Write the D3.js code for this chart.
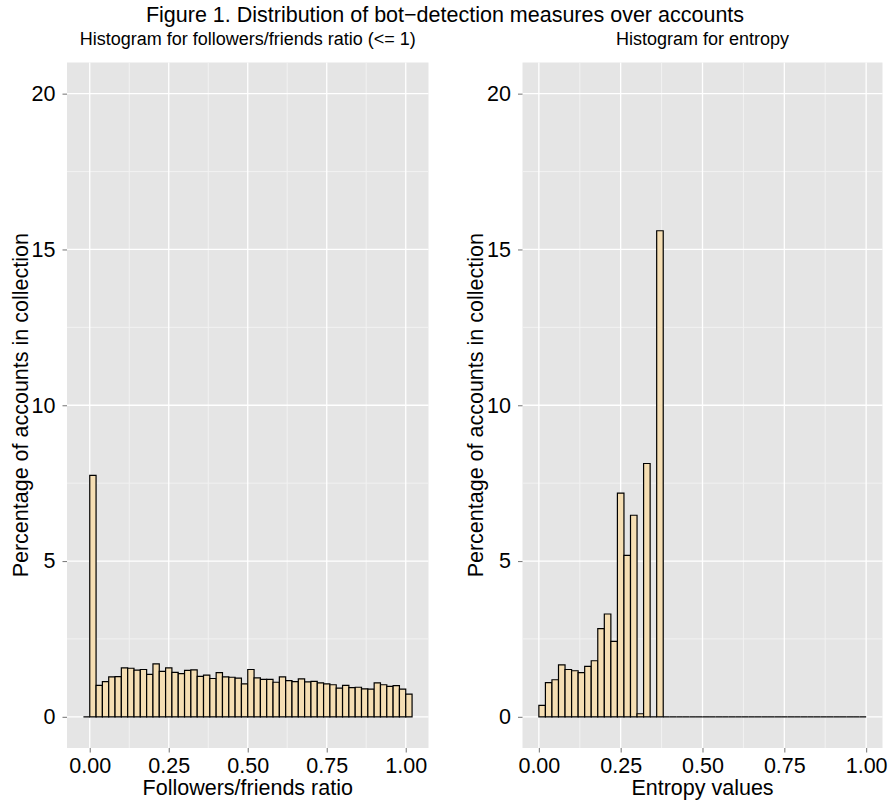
<!DOCTYPE html>
<html>
<head>
<meta charset="utf-8">
<script src="https://cdn.jsdelivr.net/npm/d3@7"></script>
<style>
  body { margin: 0; background: #fff; }
  text { font-family: "Liberation Sans", Arial, sans-serif; }
</style>
</head>
<body>
<svg id="fig"></svg>
<script>
// percentage of accounts per bin, followers/friends ratio (bins of 0.02 starting at -0.02)
const ratioStart = -0.02;
const ratioWidth = 0.02;
const ratioPct = [0, 7.75, 1.01, 1.13, 1.28, 1.29, 1.57, 1.56, 1.50, 1.52, 1.36, 1.70, 1.46,
  1.57, 1.43, 1.39, 1.49, 1.51, 1.30, 1.34, 1.23, 1.42, 1.28, 1.27, 1.24, 1.06, 1.52,
  1.25, 1.20, 1.20, 1.11, 1.28, 1.16, 1.13, 1.22, 1.12, 1.14, 1.09, 1.06, 1.03, 0.92,
  1.01, 0.94, 0.95, 0.90, 0.89, 1.09, 1.03, 0.98, 1.00, 0.89, 0.73];

// percentage of accounts per bin, entropy (bins of 0.02 starting at 0)
const entropyStart = 0;
const entropyWidth = 0.02;
const entropyPct = [0.37, 1.10, 1.19, 1.67, 1.52, 1.48, 1.42, 1.62, 1.80, 2.83, 3.30, 2.42,
  7.18, 5.18, 6.47, 0.10, 8.13, 0, 15.6, 0, 0, 0, 0, 0, 0, 0, 0, 0, 0, 0, 0, 0, 0, 0, 0,
  0, 0, 0, 0, 0, 0, 0, 0, 0, 0, 0, 0, 0, 0, 0];

const xTicks = [0, 0.25, 0.5, 0.75, 1];
const xMinor = [0.125, 0.375, 0.625, 0.875];
const yTicks = [0, 5, 10, 15, 20];
const yMinor = [2.5, 7.5, 12.5, 17.5];

const w = 891;
const h = 803;
const panelTop = 62.5, panelBottom = 748;
const panels = [
  { title: 'Histogram for followers/friends ratio (<= 1)', xlab: 'Followers/friends ratio',
    start: ratioStart, width: ratioWidth, pct: ratioPct, left: 67, right: 428.5, ylabX: 27.5 },
  { title: 'Histogram for entropy', xlab: 'Entropy values',
    start: entropyStart, width: entropyWidth, pct: entropyPct, left: 522.5, right: 882.5, ylabX: 483 }
];

const svg = d3.select('#fig').attr('width', w).attr('height', h);

svg.append('text')
  .attr('x', 445).attr('y', 22)
  .attr('text-anchor', 'middle')
  .attr('font-size', 21.5)
  .text('Figure 1. Distribution of bot\u2212detection measures over accounts');

const yScale = d3.scaleLinear().domain([-1, 21]).range([panelBottom, panelTop]);

panels.forEach(function(p) {
  const bins = p.pct.map((v, i) => ({ x0: p.start + i * p.width, x1: p.start + (i + 1) * p.width, v: v }));
  const lo = bins[0].x0, hi = bins[bins.length - 1].x1;
  const pad = (hi - lo) * 0.05;
  const xScale = d3.scaleLinear().domain([lo - pad, hi + pad]).range([p.left, p.right]);

  const g = svg.append('g');

  g.append('rect')
    .attr('x', p.left).attr('y', panelTop)
    .attr('width', p.right - p.left).attr('height', panelBottom - panelTop)
    .attr('fill', '#E5E5E5');

  // minor grid
  g.selectAll('.vminor').data(xMinor).enter().append('line')
    .attr('x1', d => xScale(d)).attr('x2', d => xScale(d))
    .attr('y1', panelTop).attr('y2', panelBottom)
    .attr('stroke', '#F2F2F2').attr('stroke-width', 1);
  g.selectAll('.hminor').data(yMinor).enter().append('line')
    .attr('x1', p.left).attr('x2', p.right)
    .attr('y1', d => yScale(d)).attr('y2', d => yScale(d))
    .attr('stroke', '#F2F2F2').attr('stroke-width', 1);
  // major grid
  g.selectAll('.vmajor').data(xTicks).enter().append('line')
    .attr('x1', d => xScale(d)).attr('x2', d => xScale(d))
    .attr('y1', panelTop).attr('y2', panelBottom)
    .attr('stroke', '#fff').attr('stroke-width', 1.3);
  g.selectAll('.hmajor').data(yTicks).enter().append('line')
    .attr('x1', p.left).attr('x2', p.right)
    .attr('y1', d => yScale(d)).attr('y2', d => yScale(d))
    .attr('stroke', '#fff').attr('stroke-width', 1.3);

  // bars as closed paths so empty bins still show their outline on the baseline
  g.selectAll('.bar').data(bins).enter().append('path')
    .attr('d', d => 'M' + xScale(d.x0) + ',' + yScale(0) + 'V' + yScale(d.v) +
                    'H' + xScale(d.x1) + 'V' + yScale(0) + 'Z')
    .attr('fill', '#F5DEB3')
    .attr('stroke', '#000')
    .attr('stroke-width', 1.2);

  // axes
  const xAxis = d3.axisBottom(xScale).tickValues(xTicks).tickFormat(d3.format('.2f'))
    .tickSize(4.5).tickPadding(5.5);
  const yAxis = d3.axisLeft(yScale).tickValues(yTicks).tickFormat(d3.format('d'))
    .tickSize(4.5).tickPadding(7);

  const gx = svg.append('g').attr('transform', 'translate(0,' + panelBottom + ')').call(xAxis);
  const gy = svg.append('g').attr('transform', 'translate(' + p.left + ',0)').call(yAxis);
  [gx, gy].forEach(function(a) {
    a.select('.domain').remove();
    a.selectAll('line').attr('stroke', '#7F7F7F').attr('stroke-width', 1.1);
    a.selectAll('text').attr('font-size', 21.5).attr('fill', '#000')
      .attr('font-family', '"Liberation Sans", Arial, sans-serif');
  });

  const cx = (p.left + p.right) / 2;
  svg.append('text')
    .attr('x', cx).attr('y', 45)
    .attr('text-anchor', 'middle').attr('font-size', 18)
    .text(p.title);
  svg.append('text')
    .attr('x', xScale(0.5)).attr('y', 795)
    .attr('text-anchor', 'middle').attr('font-size', 21.5)
    .text(p.xlab);
  svg.append('text')
    .attr('transform', 'translate(' + p.ylabX + ',' + ((panelTop + panelBottom) / 2) + ') rotate(-90)')
    .attr('text-anchor', 'middle').attr('font-size', 21.5)
    .text('Percentage of accounts in collection');
});
</script>
</body>
</html>
